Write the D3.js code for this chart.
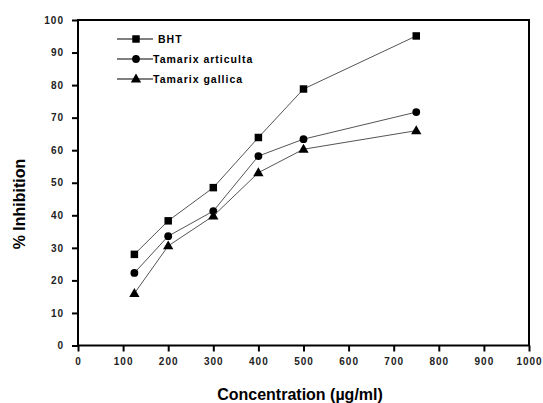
<!DOCTYPE html>
<html><head><meta charset="utf-8">
<script src="https://cdn.jsdelivr.net/npm/d3@7"></script>
<style>body{margin:0;background:#fff}svg{display:block}text{font-family:"Liberation Sans",Arial,sans-serif}</style>
</head><body><svg id="c" width="543" height="403"></svg>
<script>
const concentrations = [125, 200, 300, 400, 500, 750];
const bht = [28.0, 38.3, 48.5, 63.9, 78.8, 95.1];
const articulta = [22.3, 33.6, 41.3, 58.2, 63.4, 71.7];
const gallica = [16.0, 30.6, 39.8, 53.1, 60.3, 66.0];
const seriesNames = ["BHT", "Tamarix articulta", "Tamarix gallica"];
const xTicks = [0,100,200,300,400,500,600,700,800,900,1000];
const yTicks = [0,10,20,30,40,50,60,70,80,90,100];

const svg = d3.select("#c");
const L=78, R=529, T=20, B=345.5;
const x = d3.scaleLinear().domain([0,1000]).range([L,R]);
const y = d3.scaleLinear().domain([0,100]).range([B,T]);

svg.append("rect").attr("x",L).attr("y",T).attr("width",R-L).attr("height",B-T)
  .attr("fill","none").attr("stroke","#000").attr("stroke-width",2);

const gx = svg.append("g").attr("transform",`translate(0,${B})`);
gx.call(d3.axisBottom(x).tickValues(d3.range(50,1000,100)).tickSize(3).tickFormat(""))
  .call(g=>g.select(".domain").remove());
gx.call(d3.axisBottom(x).tickValues(xTicks).tickSize(6).tickPadding(6).tickFormat(d3.format("d")))
  .call(g=>g.select(".domain").remove());
gx.selectAll("line").attr("stroke","#000").attr("stroke-width",2);
gx.selectAll("text").attr("font-size",10).attr("font-weight","bold").attr("fill","#222").attr("letter-spacing","1px");

const gy = svg.append("g").attr("transform",`translate(${L},0)`);
gy.call(d3.axisLeft(y).tickValues(d3.range(5,100,10)).tickSize(3).tickFormat(""))
  .call(g=>g.select(".domain").remove());
gy.call(d3.axisLeft(y).tickValues(yTicks).tickSize(6).tickPadding(8).tickFormat(d3.format("d")))
  .call(g=>g.select(".domain").remove());
gy.selectAll("line").attr("stroke","#000").attr("stroke-width",2);
gy.selectAll("text").attr("font-size",10).attr("font-weight","bold").attr("fill","#222").attr("letter-spacing","1px");

svg.append("text").attr("x",300).attr("y",400).attr("text-anchor","middle")
  .attr("font-size",16).attr("font-weight","bold").text("Concentration (µg/ml)");
svg.append("text").attr("transform","translate(25,204) rotate(-90)").attr("text-anchor","middle")
  .attr("font-size",16).attr("font-weight","bold").text("% Inhibition");

const shapes = [d3.symbolSquare, d3.symbolCircle, d3.symbolTriangle];
const sizes = [56, 48, 46];
const data = [bht, articulta, gallica];
const line = d3.line().x((d,i)=>x(concentrations[i])).y(d=>y(d));

data.forEach((s,k)=>{
  svg.append("path").attr("d",line(s)).attr("fill","none").attr("stroke","#555").attr("stroke-width",1);
  svg.selectAll(null).data(s).enter().append("path")
    .attr("d",d3.symbol().type(shapes[k]).size(sizes[k]))
    .attr("transform",(d,i)=>`translate(${x(concentrations[i])},${y(d)+(k==2?0.5:0)})`)
    .attr("fill","#000");
});

const ly=[39,59,79];
seriesNames.forEach((n,k)=>{
  svg.append("line").attr("x1",117).attr("x2",153).attr("y1",ly[k]).attr("y2",ly[k]).attr("stroke","#000").attr("stroke-width",1);
  svg.append("path").attr("d",d3.symbol().type(shapes[k]).size(sizes[k]))
    .attr("transform",`translate(136,${ly[k]+(k==2?0.5:0)})`).attr("fill","#000");
  svg.append("text").attr("x",k==0?158:153).attr("y",ly[k]+4).attr("font-size",10.5).attr("font-weight","bold")
    .attr("letter-spacing","1px").text(n);
});
</script></body></html>
